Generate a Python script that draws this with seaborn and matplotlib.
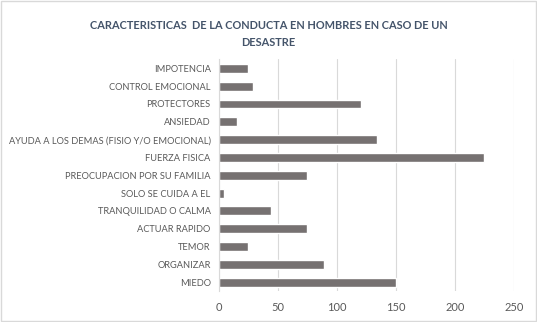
import matplotlib
matplotlib.use("Agg")
import matplotlib.pyplot as plt
import seaborn as sns
import pandas as pd

categorias = [
    "IMPOTENCIA",
    "CONTROL EMOCIONAL",
    "PROTECTORES",
    "ANSIEDAD",
    "AYUDA A LOS DEMAS (FISIO Y/O EMOCIONAL)",
    "FUERZA FISICA",
    "PREOCUPACION POR SU FAMILIA",
    "SOLO SE CUIDA A EL",
    "TRANQUILIDAD O CALMA",
    "ACTUAR RAPIDO",
    "TEMOR",
    "ORGANIZAR",
    "MIEDO",
]
valores = [25, 29, 120, 15, 134, 225, 75, 4, 44, 75, 25, 89, 150]
ticks_x = [0, 50, 100, 150, 200, 250]

titulo = "CARACTERISTICAS  DE LA CONDUCTA EN HOMBRES EN CASO DE UN\nDESASTRE"

sns.set_theme(style="white")
plt.rcParams["font.family"] = ["Lato", "DejaVu Sans"]

df = pd.DataFrame({"categoria": categorias, "valor": valores})

fig = plt.figure(figsize=(5.37, 3.22), dpi=100)
fig.patch.set_facecolor("white")
ax = fig.add_axes([0.4078, 0.0957, 0.5492, 0.7198])

sns.barplot(data=df, x="valor", y="categoria", orient="h", color="#767171",
            saturation=1, width=0.5, ax=ax)

ax.set_xlim(0, 250)
ax.set_xticks(ticks_x)
ax.set_xlabel("")
ax.set_ylabel("")
ax.grid(axis="x", color="#D9D9D9", linewidth=0.8)
ax.set_axisbelow(True)
for side in ["top", "right", "bottom"]:
    ax.spines[side].set_visible(False)
ax.spines["left"].set_color("#D9D9D9")
ax.spines["left"].set_linewidth(0.8)
ax.tick_params(axis="y", length=0, pad=6, labelsize=6.7, labelcolor="#595959")
ax.tick_params(axis="x", length=0, pad=8, labelsize=8, labelcolor="#595959")

fig.text(0.5, 0.895, titulo, ha="center", va="center", fontsize=7.9,
         fontweight="bold", color="#44546A", linespacing=1.7)

# thin frame around the chart area
fig.add_artist(plt.Rectangle((0.001, 0.002), 0.997, 0.995, transform=fig.transFigure,
                             fill=False, edgecolor="#D9D9D9", linewidth=1))

fig.savefig("out.png", dpi=100, facecolor="white")
